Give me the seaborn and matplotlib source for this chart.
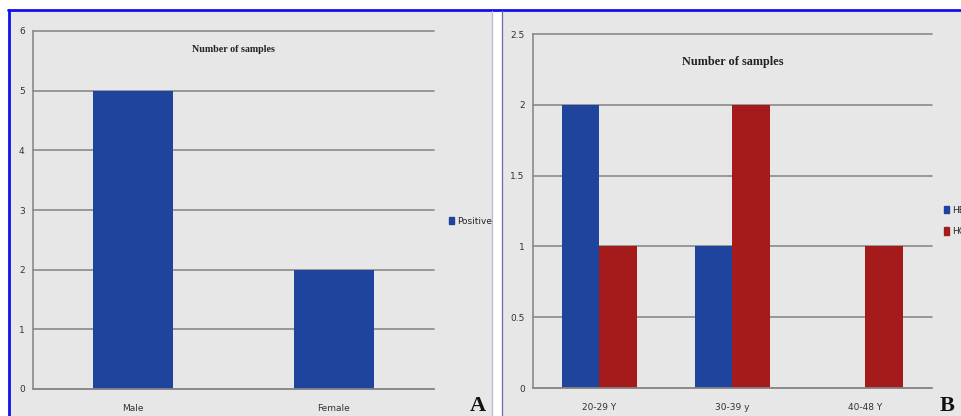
import matplotlib
matplotlib.use("Agg")
import matplotlib.pyplot as plt
from matplotlib.patches import Rectangle
from matplotlib.lines import Line2D
import seaborn as sns
import pandas as pd

# ---- data ----
sex_categories = ["Male", "Female"]
positive_counts = [5, 2]
age_groups = ["20-29 Y", "30-39 y", "40-48 Y"]
hbv_counts = [2, 1, 0]
hcv_counts = [1, 2, 1]
series_names = ["HBV", "HCV"]

BLUE = "#1F449E"
RED = "#A51B1C"
BG = "#E7E7E7"
GRID = "#8A8A8A"

sns.set_theme(style="white")
plt.rcParams['font.family'] = ['Liberation Sans Narrow', 'DejaVu Sans']

W, H = 962, 416
fig = plt.figure(figsize=(W / 100, H / 100), dpi=100)
fig.patch.set_facecolor("white")

def fx(px):
    return px / W

def fy(py):
    return 1 - py / H

# panel backgrounds and borders (behind the axes)
fig.patches.append(Rectangle((fx(10), 0), fx(492) - fx(10), fy(11), transform=fig.transFigure,
                             facecolor=BG, edgecolor="none", zorder=-2))
fig.patches.append(Rectangle((fx(503), 0), fx(962) - fx(503), fy(11), transform=fig.transFigure,
                             facecolor=BG, edgecolor="none", zorder=-2))
fig.lines.append(Line2D([fx(8), 1], [fy(10), fy(10)], transform=fig.transFigure, color="#1010F0", lw=2, zorder=-1))
fig.lines.append(Line2D([fx(9), fx(9)], [0, fy(10)], transform=fig.transFigure, color="#1010F0", lw=2, zorder=-1))
fig.lines.append(Line2D([fx(492.5), fx(492.5)], [0, fy(11)], transform=fig.transFigure, color="#B8B8DC", lw=0.9, zorder=-1))
fig.lines.append(Line2D([fx(502), fx(502)], [0, fy(11)], transform=fig.transFigure, color="#6868B4", lw=0.9, zorder=-1))

def style_axes(ax, ymax, yticks, ylabels):
    ax.set_facecolor(BG)
    ax.set_ylim(0, ymax)
    ax.set_yticks(yticks)
    ax.set_yticklabels(ylabels)
    for s in ["top", "right"]:
        ax.spines[s].set_visible(False)
    for s in ["left", "bottom"]:
        ax.spines[s].set_color(GRID)
        ax.spines[s].set_linewidth(1.2)
    ax.yaxis.grid(True, color=GRID, linewidth=1.2)
    for gl in ax.get_ygridlines():
        gl.set_clip_on(False)
    ax.set_axisbelow(True)
    ax.tick_params(axis="y", length=3, width=1.0, color=GRID, labelsize=6.5, labelcolor="#333333", pad=3)
    ax.tick_params(axis="x", which="major", length=0, labelsize=6.5, labelcolor="#333333", pad=11)
    ax.tick_params(axis="x", which="minor", length=4, width=1.0, color=GRID, direction="in")
    ax.set_xlabel("")
    ax.set_ylabel("")
    for p in ax.patches:
        p.set_edgecolor("none")
        p.set_linewidth(0)

# ---- panel A ----
axA = fig.add_axes([fx(33), 1 - 389 / H, fx(434) - fx(33), (389 - 31) / H])
dfA = pd.DataFrame({"sex": sex_categories, "count": positive_counts, "series": "Positive"})
sns.barplot(data=dfA, x="sex", y="count", hue="series", palette=[BLUE], width=0.4,
            ax=axA, legend=False, saturation=1)
axA.set_xlim(-0.5, len(sex_categories) - 0.5)
style_axes(axA, 6, range(0, 7), [str(v) for v in range(0, 7)])
axA.set_xticks([i + 0.5 for i in range(-1, len(sex_categories))], minor=True)
axA.text(0.5, 0.947, "Number of samples", transform=axA.transAxes, ha="center", va="center",
         fontsize=7.2, fontweight="bold", family=["Liberation Serif"], color="#222222")
fig.legend(handles=[Rectangle((0, 0), 1, 1, color=BLUE)], labels=["Positive"],
           loc="center left", bbox_to_anchor=(fx(444), fy(221)), frameon=False,
           fontsize=6.5, handlelength=0.6, handleheight=0.9, handletextpad=0.3, borderpad=0)
fig.text(fx(470), fy(406), "A", fontsize=16, fontweight="bold", family=["Liberation Serif"],
         ha="left", va="center", color="#111111")

# ---- panel B ----
axB = fig.add_axes([fx(533), 1 - 388 / H, fx(932) - fx(533), (388 - 34) / H])
dfB = pd.DataFrame({
    "age": age_groups * 2,
    "count": hbv_counts + hcv_counts,
    "series": [series_names[0]] * len(age_groups) + [series_names[1]] * len(age_groups),
})
sns.barplot(data=dfB, x="age", y="count", hue="series", palette=[BLUE, RED], width=0.56,
            ax=axB, legend=False, saturation=1)
axB.set_xlim(-0.5, len(age_groups) - 0.5)
style_axes(axB, 2.5, [0, 0.5, 1, 1.5, 2, 2.5], ["0", "0.5", "1", "1.5", "2", "2.5"])
axB.set_xticks([i + 0.5 for i in range(-1, len(age_groups))], minor=True)
axB.text(0.5, 0.921, "Number of samples", transform=axB.transAxes, ha="center", va="center",
         fontsize=8.8, fontweight="bold", family=["Liberation Serif"], color="#222222")
fig.legend(handles=[Rectangle((0, 0), 1, 1, color=BLUE), Rectangle((0, 0), 1, 1, color=RED)],
           labels=series_names, loc="upper left", bbox_to_anchor=(fx(939), fy(201)), frameon=False,
           fontsize=6.5, handlelength=0.6, handleheight=0.9, handletextpad=0.3, borderpad=0,
           labelspacing=1.4)
fig.text(fx(940), fy(406), "B", fontsize=16, fontweight="bold", family=["Liberation Serif"],
         ha="left", va="center", color="#111111")

fig.savefig("out.png", dpi=100, facecolor=fig.get_facecolor())
